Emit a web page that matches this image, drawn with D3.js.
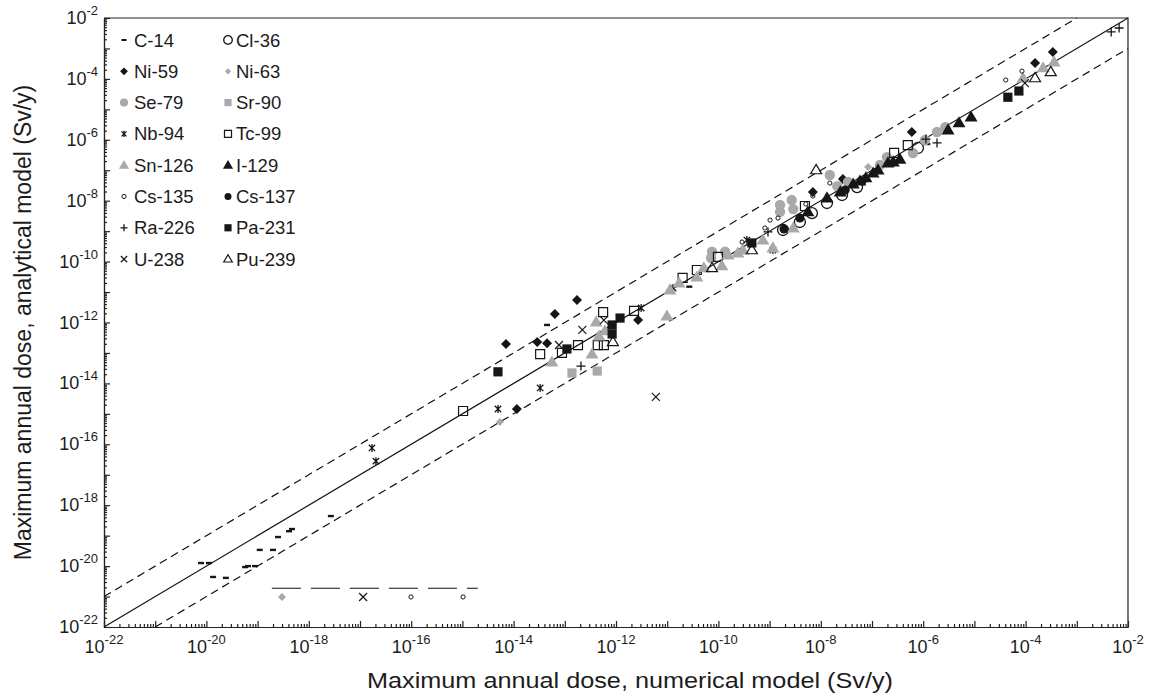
<!DOCTYPE html>
<html><head><meta charset="utf-8">
<script src="https://cdn.jsdelivr.net/npm/d3@7"></script>
<style>
body{margin:0;background:#fff}
text{font-family:"Liberation Sans",Arial,Helvetica,sans-serif;fill:#1c1c1c}
</style>
</head><body>
<svg id="chart" width="1155" height="700"></svg>
<script>
// ---------------- data ----------------
const xDomain = [1e-22, 1e-2];
const yDomain = [1e-22, 1e-2];
const tickExponents = [-22, -20, -18, -16, -14, -12, -10, -8, -6, -4, -2];
const xTitle = "Maximum annual dose, numerical model (Sv/y)";
const yTitle = "Maximum annual dose, analytical model (Sv/y)";
const seriesNames = ["C-14","Cl-36","Ni-59","Ni-63","Se-79","Sr-90","Nb-94","Tc-99",
                     "Sn-126","I-129","Cs-135","Cs-137","Ra-226","Pa-231","U-238","Pu-239"];

// [numerical model, analytical model]  (Sv/y)
const c14 = [[7.85e-21,1.26e-20],[1.12e-20,1.26e-20],[1.35e-20,4.4e-21],[2.4e-20,4.1e-21],
  [5.7e-20,9.3e-21],[6.5e-20,1.0e-20],[8.9e-20,1.0e-20],[1.1e-19,3.4e-20],[2.0e-19,3.4e-20],
  [2.5e-19,9.0e-20],[4.1e-19,1.4e-19],[4.7e-19,1.65e-19],[2.7e-18,4.4e-19],[4.5e-14,8.3e-13],
  [2.7e-11,1.5e-11],[1.2e-6,7.3e-7]];
const cl36 = [[1.83e-9,1.09e-9],[3.9e-9,2.0e-9],[6.7e-9,3.9e-9],[1.32e-8,8.4e-9],
  [2.6e-8,1.54e-8],[5.1e-8,2.8e-8],[7.9e-7,5.4e-7]];
const ni59 = [[7.1e-15,1.97e-13],[2.9e-14,2.3e-13],[4.5e-14,2.1e-13],[6.4e-14,1.9e-12],
  [1.73e-13,5.5e-12],[1.16e-14,1.44e-15],[2.7e-12,1.2e-12],[7.0e-9,1.93e-8],[2.7e-8,5.2e-8],
  [6.0e-7,1.8e-6],[1.53e-4,3.3e-4],[3.4e-4,7.6e-4]];
const ni63 = [[3.0e-19,9.7e-22],[5.4e-15,5.4e-16],[8.4e-8,1.28e-7]];
const se79 = [[7.2e-11,1.31e-10],[7.5e-11,2.1e-10],[1.35e-10,2.1e-10],[1.6e-9,7.2e-9],
  [1.6e-9,4.3e-9],[2.7e-9,1.05e-8],[2.9e-9,5.3e-9],[1.5e-8,7.0e-8],[2.1e-8,3.0e-8],
  [3.4e-8,4.1e-8],[1.43e-7,1.49e-7],[1.96e-7,2.7e-7],[6.3e-7,3.7e-7],[1.08e-6,9.8e-7],
  [1.86e-6,1.8e-6],[2.7e-6,2.6e-6]];
const sr90 = [[1.38e-13,2.2e-14],[4.3e-13,2.55e-14]];
const nb94 = [[1.71e-17,7.6e-17],[2.05e-17,2.8e-17],[4.95e-15,1.44e-15],[3.3e-14,7.1e-15],
  [3.1e-12,3.0e-12],[1.3e-11,1.36e-11],[3.6e-10,5.1e-10],[1.16e-9,2.4e-10]];
const tc99 = [[1.03e-15,1.24e-15],[3.3e-14,9.2e-14],[8.8e-14,1.0e-13],[1.81e-13,1.82e-13],
  [4.4e-13,1.82e-13],[5.8e-13,1.82e-13],[5.6e-13,2.2e-12],[2.25e-12,2.4e-12],[2.0e-11,2.9e-11],
  [3.8e-11,5.3e-11],[9.8e-11,1.42e-10],[4.9e-9,6.7e-9],[2.7e-7,3.7e-7],[5.0e-7,6.7e-7]];
const sn126 = [[5.6e-14,5.0e-14],[3.4e-13,9.2e-14],[4.1e-13,1.04e-12],[4.65e-13,3.6e-13],
  [6.1e-13,5.3e-13],[9.9e-12,1.63e-12],[1.13e-11,1.17e-11],[1.7e-11,1.98e-11],[3.8e-11,3.1e-11],
  [5.2e-11,6.2e-11],[1.17e-10,7.2e-11],[1.54e-10,1.65e-10],[2.4e-10,1.91e-10],[3.0e-10,2.4e-10],
  [7.4e-10,5.1e-10],[1.16e-9,2.8e-10],[2.9e-9,1.27e-9],[8.9e-5,1.07e-4],[2.2e-4,2.3e-4],
  [3.6e-4,3.6e-4]];
const i129 = [[5.6e-9,4.3e-9],[1.32e-8,1.23e-8],[2.4e-8,1.93e-8],[4.3e-8,3.5e-8],[5.8e-8,4.4e-8],
  [7.6e-8,5.6e-8],[1.05e-7,8.1e-8],[1.31e-7,1.02e-7],[2.05e-7,1.73e-7],[2.6e-7,1.87e-7],
  [3.5e-7,2.3e-7],[3.05e-6,2.1e-6],[5.0e-6,3.6e-6],[8.6e-6,5.6e-6]];
const cs135 = [[9.9e-17,9.7e-22],[1.03e-15,9.7e-22],[2.9e-10,4.4e-10],[8.1e-10,1.27e-9],
  [1.02e-9,2.3e-9],[1.46e-9,2.7e-9],[5.1e-9,7.8e-9],[7.0e-9,1.43e-8],[1.5e-8,3.8e-8],
  [4.1e-5,9.2e-5],[8.5e-5,1.8e-4]];
const cs137 = [[1.91e-9,1.18e-9],[3.9e-9,2.7e-9],[3.0e-8,2.25e-8],[6.4e-8,4.4e-8]];
const ra226 = [[2.07e-13,3.7e-14],[9.3e-10,9.4e-10],[1.13e-6,1.06e-6],[1.86e-6,7.9e-7],
  [4.7e-3,3.5e-3],[6.7e-3,4.7e-3]];
const pa231 = [[4.95e-15,2.4e-14],[1.1e-13,1.35e-13],[8.4e-13,8.3e-13],[8.4e-13,4.2e-13],
  [1.2e-12,1.4e-12],[4.5e-10,4.1e-10],[4.5e-5,2.5e-5],[7.4e-5,4.0e-5]];
const u238 = [[1.15e-17,9.7e-22],[7.7e-14,1.82e-13],[2.2e-13,5.7e-13],[5.8e-13,1.2e-12],
  [6.0e-12,3.6e-15],[9.7e-5,7.3e-5]];
const pu239 = [[8.7e-13,2.3e-13],[7.5e-11,6.2e-11],[4.5e-10,2.4e-10],[8.1e-9,1.02e-7],
  [1.53e-4,1.07e-4],[3.1e-4,1.69e-4]];
// long-dashed detection line
const detectionX = [1.9e-19, 2.0e-15];
const detectionY = 1.87e-21;

const seriesData = [c14, cl36, ni59, ni63, se79, sr90, nb94, tc99, sn126, i129, cs135, cs137, ra226, pa231, u238, pu239];

// ---------------- styles ----------------
const BLK = "#161616", GRY = "#a9a9a9";
const styles = [
  {m:"dash", fill:BLK},
  {m:"circle", r:5.5, fill:"none", stroke:BLK, sw:1.3},
  {m:"diamond", r:5, fill:BLK},
  {m:"diamond", r:4, fill:GRY},
  {m:"circle", r:5.2, fill:GRY},
  {m:"square", r:4.6, fill:GRY},
  {m:"asterisk", r:4, fill:"none", stroke:BLK, sw:1.3},
  {m:"square", r:4.5, fill:"none", stroke:BLK, sw:1.2},
  {m:"triangle", r:6.5, fill:GRY},
  {m:"triangle", r:6.5, fill:BLK},
  {m:"circle", r:2.1, fill:"none", stroke:BLK, sw:1},
  {m:"circle", r:4.5, fill:BLK},
  {m:"plus", r:4.5, fill:"none", stroke:BLK, sw:1.3},
  {m:"square", r:4.6, fill:BLK},
  {m:"x", r:4, fill:"none", stroke:BLK, sw:1.2},
  {m:"triangle", r:5.5, fill:"none", stroke:BLK, sw:1.2}
];

function markerPath(m, r) {
  switch (m) {
    case "dash": return `M${-r*3},${-r*1.2}h${r*6}v${r*2.4}h${-r*6}Z`;
    case "circle": return `M${r},0A${r},${r},0,1,1,${-r},0A${r},${r},0,1,1,${r},0Z`;
    case "diamond": return `M0,${-r}L${r},0L0,${r}L${-r},0Z`;
    case "square": return `M${-r},${-r}h${2*r}v${2*r}h${-2*r}Z`;
    case "triangle": { const h = r*1.7; return `M0,${-h*0.6}L${r},${h*0.4}L${-r},${h*0.4}Z`; }
    case "asterisk": return `M${-r*0.8},${-r*0.8}L${r*0.8},${r*0.8}M${-r*0.8},${r*0.8}L${r*0.8},${-r*0.8}M0,${-r}L0,${r}`;
    case "plus": return `M${-r},0H${r}M0,${-r}V${r}`;
    case "x": return `M${-r},${-r}L${r},${r}M${-r},${r}L${r},${-r}`;
  }
}

// ---------------- chart ----------------
const svg = d3.select("#chart");
const L = 104, R = 1128, T = 18, B = 627;
const x = d3.scaleLog().domain(xDomain).range([L, R]);
const y = d3.scaleLog().domain(yDomain).range([B, T]);

const minorTicks = [], majorTicks = [];
for (let e = -22; e < -2; e++) {
  majorTicks.push(+("1e" + e));
  for (let k = 2; k <= 9; k++) minorTicks.push(+(k + "e" + e));
}
majorTicks.push(1e-2);

const axisColor = "#222";
function styleAxis(g) {
  g.selectAll("path,line").attr("stroke", axisColor).attr("stroke-width", 1.2);
}
// x axis
svg.append("g").attr("transform", `translate(0,${B})`)
  .call(d3.axisBottom(x).tickValues(minorTicks).tickSize(-3).tickSizeOuter(0).tickFormat(""))
  .call(styleAxis);
svg.append("g").attr("transform", `translate(0,${B})`)
  .call(d3.axisBottom(x).tickValues(majorTicks).tickSize(-6).tickSizeOuter(0).tickFormat(""))
  .call(styleAxis);
// y axis
svg.append("g").attr("transform", `translate(${L},0)`)
  .call(d3.axisLeft(y).tickValues(minorTicks).tickSize(-3).tickSizeOuter(0).tickFormat(""))
  .call(styleAxis);
svg.append("g").attr("transform", `translate(${L},0)`)
  .call(d3.axisLeft(y).tickValues(majorTicks).tickSize(-6).tickSizeOuter(0).tickFormat(""))
  .call(styleAxis);
// top/right frame
svg.append("path")
  .attr("d", `M${x(xDomain[0])},${y(yDomain[1])}H${x(xDomain[1])}V${y(yDomain[0])}`)
  .attr("fill", "none").attr("stroke", axisColor).attr("stroke-width", 1.2);

// tick labels
tickExponents.forEach(e => {
  const v = +("1e" + e);
  const tx = svg.append("text").attr("x", x(v)).attr("y", B + 26)
    .attr("text-anchor", "middle").attr("font-size", 18);
  tx.append("tspan").text("10");
  tx.append("tspan").attr("dy", -9).attr("font-size", 13).text("-" + Math.abs(e));
  const ty = svg.append("text").attr("x", L - 6).attr("y", y(v) + 6)
    .attr("text-anchor", "end").attr("font-size", 18);
  ty.append("tspan").text("10");
  ty.append("tspan").attr("dy", -9).attr("font-size", 13).text("-" + Math.abs(e));
});

// axis titles
svg.append("text").attr("x", 630).attr("y", 688)
  .attr("text-anchor", "middle").attr("font-size", 22)
  .attr("textLength", 526).attr("lengthAdjust", "spacingAndGlyphs").text(xTitle);
svg.append("text").attr("transform", `translate(31,${(T + B) / 2}) rotate(-90)`)
  .attr("text-anchor", "middle").attr("font-size", 23).text(yTitle);

// reference lines: y = x, y = 10x, y = x/10
const plot = svg.append("g");
const line = d3.line().x(d => x(d[0])).y(d => y(d[1]));
plot.append("path").attr("d", line([[1e-22, 1e-22], [1e-2, 1e-2]]))
  .attr("stroke", "#111").attr("stroke-width", 1.2).attr("fill", "none");
plot.append("path").attr("d", line([[1e-22, 1e-21], [1e-3, 1e-2]]))
  .attr("stroke", "#111").attr("stroke-width", 1.2).attr("fill", "none").attr("stroke-dasharray", "8,5");
plot.append("path").attr("d", line([[1e-21, 1e-22], [1e-2, 1e-3]]))
  .attr("stroke", "#111").attr("stroke-width", 1.2).attr("fill", "none").attr("stroke-dasharray", "8,5");
plot.append("path").attr("d", line([[detectionX[0], detectionY], [detectionX[1], detectionY]]))
  .attr("stroke", "#111").attr("stroke-width", 1.2).attr("fill", "none").attr("stroke-dasharray", "29,10");

// points
seriesData.forEach((data, i) => {
  const s = styles[i];
  const r = s.m === "dash" ? 1 : s.r;
  plot.append("g").selectAll("path").data(data).join("path")
    .attr("transform", d => `translate(${x(d[0])},${y(d[1])})`)
    .attr("d", markerPath(s.m, r))
    .attr("fill", s.fill)
    .attr("stroke", s.stroke || "none")
    .attr("stroke-width", s.sw || 0);
});

// legend
const legend = svg.append("g");
seriesNames.forEach((name, i) => {
  const s = styles[i];
  const col = i % 2, row = Math.floor(i / 2);
  const mx = col === 0 ? 124 : 228;
  const cy = 40 + row * 31.3;
  const r = s.m === "dash" ? 0.85 : (s.m === "circle" && s.r < 3 ? 2.1 : s.r * 0.78);
  legend.append("path").attr("transform", `translate(${mx},${cy})`)
    .attr("d", markerPath(s.m, r))
    .attr("fill", s.fill).attr("stroke", s.stroke || "none").attr("stroke-width", s.sw || 0);
  legend.append("text").attr("x", mx + (col === 0 ? 10 : 8)).attr("y", cy + 6.5)
    .attr("font-size", 18.5).text(name);
});
</script>
</body></html>
